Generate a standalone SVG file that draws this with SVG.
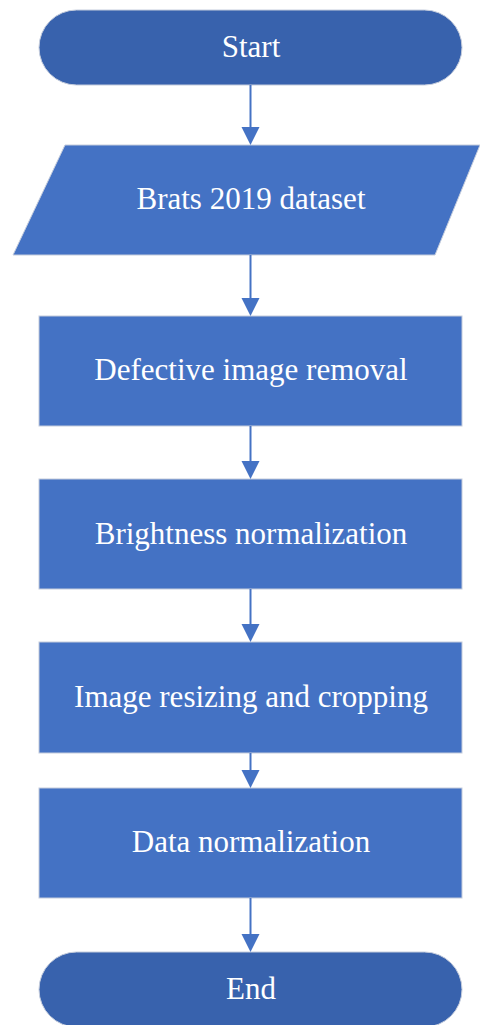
<svg xmlns="http://www.w3.org/2000/svg" width="480" height="1025" viewBox="0 0 480 1025">
<style>
.term{fill:#3862ad;stroke:#c4ccdc;stroke-width:1}
.proc{fill:#4472c4;stroke:#c4ccdc;stroke-width:1}
.lbl{font-family:"Liberation Serif","Times New Roman",serif;font-size:31px;fill:#ffffff;text-anchor:middle}
.conn{stroke:#4472c4;stroke-width:2;fill:none}
.head{fill:#4472c4}
</style>
<g id="start"><rect class="term" x="39" y="10" width="423" height="75" rx="37.5"/><text class="lbl" x="251" y="57">Start</text></g>
<g id="dataset"><polygon class="proc" points="65,145 480,145 435,255 13,255"/><text class="lbl" x="251" y="209">Brats 2019 dataset</text></g>
<g id="defective"><rect class="proc" x="39" y="316" width="423" height="110"/><text class="lbl" x="251" y="380">Defective image removal</text></g>
<g id="brightness"><rect class="proc" x="39" y="479" width="423" height="110"/><text class="lbl" x="251" y="544">Brightness normalization</text></g>
<g id="resize"><rect class="proc" x="39" y="642" width="423" height="111"/><text class="lbl" x="251" y="707">Image resizing and cropping</text></g>
<g id="datanorm"><rect class="proc" x="39" y="788" width="423" height="110"/><text class="lbl" x="251" y="852">Data normalization</text></g>
<g id="end"><rect class="term" x="39" y="952" width="423" height="75" rx="37.5"/><text class="lbl" x="251" y="999">End</text></g>
<g id="connectors">
<line class="conn" x1="250.5" y1="85" x2="250.5" y2="130"/><polygon class="head" points="241.5,127 259.5,127 250.5,145"/>
<line class="conn" x1="250.5" y1="255" x2="250.5" y2="300"/><polygon class="head" points="241.5,298 259.5,298 250.5,316"/>
<line class="conn" x1="250.5" y1="426" x2="250.5" y2="463"/><polygon class="head" points="241.5,461 259.5,461 250.5,479"/>
<line class="conn" x1="250.5" y1="589" x2="250.5" y2="626"/><polygon class="head" points="241.5,624 259.5,624 250.5,642"/>
<line class="conn" x1="250.5" y1="753" x2="250.5" y2="772"/><polygon class="head" points="241.5,770 259.5,770 250.5,788"/>
<line class="conn" x1="250.5" y1="898" x2="250.5" y2="936"/><polygon class="head" points="241.5,934 259.5,934 250.5,952"/>
</g>
</svg>
